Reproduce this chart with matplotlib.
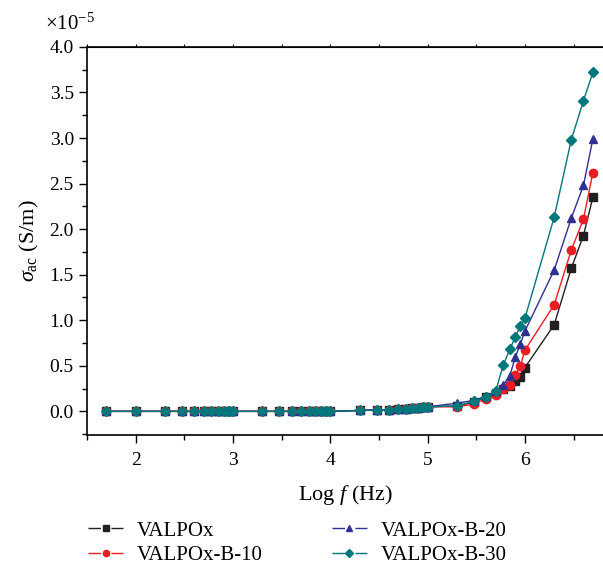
import numpy as np
import matplotlib
matplotlib.use('Agg')
import matplotlib.pyplot as plt
from matplotlib.lines import Line2D
from matplotlib.ticker import MultipleLocator, FuncFormatter

plt.rcParams['font.family'] = ['Liberation Serif', 'DejaVu Serif']
plt.rcParams['mathtext.fontset'] = 'custom'
plt.rcParams['mathtext.rm'] = 'Liberation Serif'
plt.rcParams['mathtext.it'] = 'Liberation Serif:italic'

# frequencies (Hz) -> log f
freq = [50, 100, 200, 300, 400, 500, 600, 700, 800, 900, 1e3,
        2e3, 3e3, 4e3, 5e3, 6e3, 7e3, 8e3, 9e3, 1e4,
        2e4, 3e4, 4e4, 5e4, 6e4, 7e4, 8e4, 9e4, 1e5,
        2e5, 3e5, 4e5, 5e5, 6e5, 7e5, 8e5, 9e5, 1e6,
        2e6, 3e6, 4e6, 5e6]
logf = np.log10(freq)

# sigma_ac in units of 1e-5 S/m
low = [0.0] * 20
mid = [0.01, 0.015, 0.02, 0.025, 0.03, 0.035, 0.04, 0.045, 0.05]
valpox = low + mid + [0.06, 0.1, 0.16, 0.2, 0.25, 0.28, 0.33, 0.38, 0.48,
                      0.95, 1.57, 1.93, 2.35]
valpox_b10 = low + mid + [0.05, 0.08, 0.14, 0.18, 0.25, 0.29, 0.40, 0.50, 0.67,
                          1.17, 1.77, 2.11, 2.62]
valpox_b20 = low + mid + [0.09, 0.12, 0.17, 0.22, 0.29, 0.39, 0.60, 0.74, 0.88,
                          1.55, 2.12, 2.48, 2.99]
valpox_b30 = low + mid + [0.06, 0.11, 0.16, 0.22, 0.51, 0.68, 0.82, 0.94, 1.02,
                          2.13, 2.98, 3.41, 3.72]

series = [
    ('VALPOx', valpox, '#231f20', 's', 5.5),
    ('VALPOx-B-10', valpox_b10, '#ed1c24', 'o', 6),
    ('VALPOx-B-20', valpox_b20, '#2e3192', '^', 6),
    ('VALPOx-B-30', valpox_b30, '#00777a', 'D', 5.5),
]

fig = plt.figure(figsize=(6.03, 5.65), dpi=100)
ax = fig.add_axes([0.1443, 0.230, 0.8557, 0.687])

handles = []
for name, vals, col, mk, ms in series:
    ax.plot(logf, np.array(vals) * 1e-5, color=col, marker=mk, lw=1.0, ms=ms)
    handles.append(Line2D([], [], color=col, marker=mk, ms=4.5, lw=1.0,
                          ls=(0, (9, 7.5)), label=name))

ax.set_xlim(1.5, 6.803)
ax.set_ylim(-0.26e-5, 4.0e-5)
ax.xaxis.set_major_locator(MultipleLocator(1))
ax.xaxis.set_minor_locator(MultipleLocator(0.5))
ax.yaxis.set_major_locator(MultipleLocator(0.5e-5))
ax.yaxis.set_minor_locator(MultipleLocator(0.25e-5))
ax.yaxis.set_major_formatter(FuncFormatter(lambda v, p: f'{v / 1e-5:.1f}'))
ax.text(-0.082, 1.03, r'$\times10^{-5}$', transform=ax.transAxes,
        fontsize=15, ha='left', va='bottom')

ax.tick_params(which='both', direction='out', labelsize=14, width=1,
               top=False, right=False)
ax.tick_params(which='major', length=6)
ax.tick_params(which='minor', length=3.5)
ax.tick_params(axis='x', which='major', pad=6)

# tiny ticks on the top spine
top = ax.secondary_xaxis('top')
top.xaxis.set_major_locator(MultipleLocator(0.5))
top.tick_params(which='both', length=2, width=0.8, labeltop=False)

for s in ['left', 'bottom', 'top']:
    ax.spines[s].set_linewidth(1.2)
ax.spines['right'].set_visible(False)

ax.set_xlabel(r'Log $f$ (Hz)', fontsize=16, labelpad=10)
ax.set_ylabel(r'$\sigma_{\mathrm{ac}}$ (S/m)', fontsize=16, labelpad=6)

fig.legend(handles=handles, loc='upper left', bbox_to_anchor=(0.146, 0.078),
           ncol=2, frameon=False, fontsize=15, borderpad=0, borderaxespad=0,
           handlelength=1.7, handletextpad=0.65, columnspacing=3.3,
           labelspacing=0.25)

fig.savefig('out.png', dpi=100)
